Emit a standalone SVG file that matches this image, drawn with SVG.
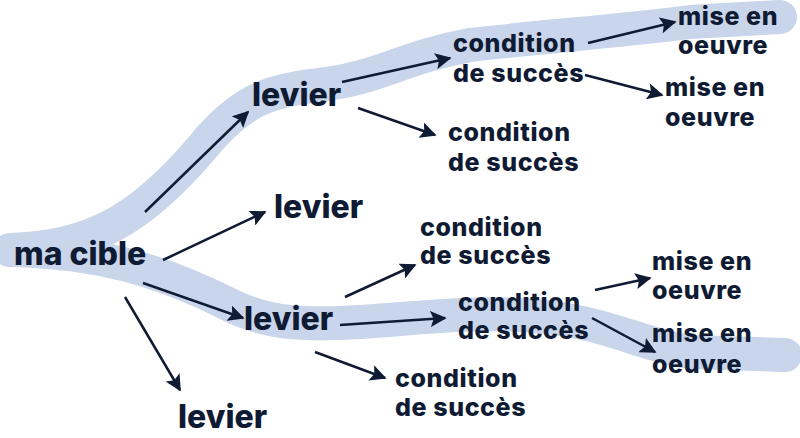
<svg xmlns="http://www.w3.org/2000/svg" width="800" height="438" viewBox="0 0 800 438">
<style>
.t{font-family:"Inter","Liberation Sans",sans-serif;font-weight:800;fill:#0f1a33}
.a{font-size:32px}.b{font-size:25px;letter-spacing:0.6px}
.band{fill:none;stroke:#c8d5eb;stroke-width:34;stroke-linecap:round;stroke-linejoin:round}
.c{stroke:#0f1a33;stroke-width:2.5;fill:none;marker-end:url(#m)}
</style>
<defs><marker id="m" viewBox="0 0 10 10" refX="9" refY="5" markerWidth="6.5" markerHeight="6.5" orient="auto"><path d="M0,0L10,5L0,10L2,5z" fill="#0f1a33"/></marker></defs>
<g id="bands">
<path class="band" d="M10,250 C90,248 140,220 200,150 C240,100 270,90 320,85 C380,78 400,58 470,45 C560,35 610,32 690,22 L780,17"/>
<path class="band" d="M10,250 C100,252 160,270 230,305 C270,325 310,325 360,322 C420,318 470,312 520,315 C600,318 640,345 690,352 L785,355"/>
</g>
<g id="connectors">
<line class="c" x1="145" y1="212" x2="248" y2="112"/>
<line class="c" x1="163" y1="260" x2="265" y2="212"/>
<line class="c" x1="143" y1="283" x2="243" y2="318"/>
<line class="c" x1="125" y1="297" x2="180" y2="390"/>
<line class="c" x1="342" y1="82" x2="450" y2="58"/>
<line class="c" x1="358" y1="108" x2="435" y2="135"/>
<line class="c" x1="588" y1="43" x2="675" y2="22"/>
<line class="c" x1="585" y1="75" x2="662" y2="95"/>
<line class="c" x1="345" y1="297" x2="415" y2="265"/>
<line class="c" x1="340" y1="325" x2="445" y2="318"/>
<line class="c" x1="315" y1="352" x2="385" y2="378"/>
<line class="c" x1="595" y1="290" x2="650" y2="278"/>
<line class="c" x1="592" y1="318" x2="655" y2="352"/>
</g>
<g id="cible"><text class="t a" x="14" y="265">ma cible</text></g>
<g id="levier1"><text class="t a" x="252" y="106">levier</text></g>
<g id="levier2"><text class="t a" x="274" y="218">levier</text></g>
<g id="levier3"><text class="t a" x="244" y="330">levier</text></g>
<g id="levier4"><text class="t a" x="178" y="428">levier</text></g>
<g id="cond1"><text class="t b" x="453" y="52">condition</text><text class="t b" x="453" y="82">de succès</text></g>
<g id="cond2"><text class="t b" x="448" y="141">condition</text><text class="t b" x="448" y="171">de succès</text></g>
<g id="cond3"><text class="t b" x="420" y="236">condition</text><text class="t b" x="420" y="264">de succès</text></g>
<g id="cond4"><text class="t b" x="458" y="311">condition</text><text class="t b" x="458" y="339">de succès</text></g>
<g id="cond5"><text class="t b" x="395" y="387">condition</text><text class="t b" x="395" y="416">de succès</text></g>
<g id="mise1"><text class="t b" x="678" y="25">mise en</text><text class="t b" x="678" y="54">oeuvre</text></g>
<g id="mise2"><text class="t b" x="665" y="96">mise en</text><text class="t b" x="665" y="126">oeuvre</text></g>
<g id="mise3"><text class="t b" x="652" y="270">mise en</text><text class="t b" x="652" y="299">oeuvre</text></g>
<g id="mise4"><text class="t b" x="652" y="342">mise en</text><text class="t b" x="652" y="373">oeuvre</text></g>
</svg>
